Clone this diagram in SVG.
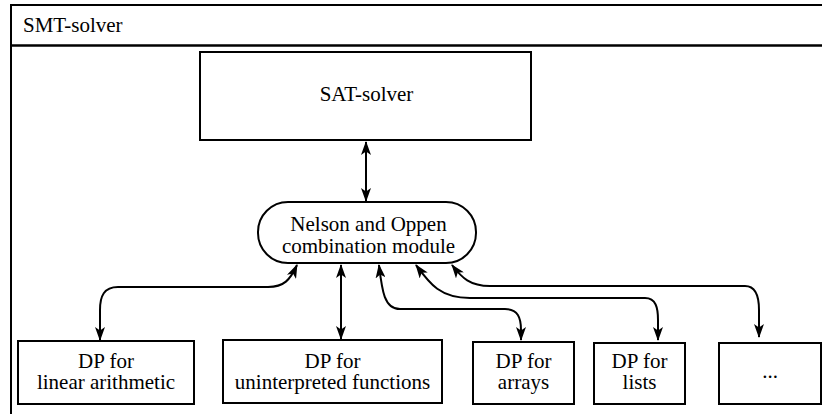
<svg xmlns="http://www.w3.org/2000/svg" width="822" height="414" viewBox="0 0 822 414" font-family="'Liberation Serif', 'Times New Roman', serif" font-size="21">
<style>
text{font-family:"Liberation Serif","Times New Roman",serif;font-size:21px;fill:#000}
.box{fill:#fff;stroke:#000;stroke-width:2}
.conn{fill:none;stroke:#000;stroke-width:2;marker-start:url(#ah);marker-end:url(#ah)}
</style>
<defs>
<marker id="ah" viewBox="0 0 14 10" refX="13" refY="5" markerWidth="14" markerHeight="10" markerUnits="userSpaceOnUse" orient="auto-start-reverse">
<path d="M0,0 L14,5 L0,10 L3.5,5 z" fill="#000"/>
</marker>
</defs>
<g id="frame">
<rect x="11" y="5" width="830" height="430" fill="#fff" stroke="#000" stroke-width="2"/>
<line x1="11" y1="45.5" x2="822" y2="45.5" stroke="#000" stroke-width="2.5"/>
<text x="23" y="32">SMT-solver</text>
</g>
<g id="connectors">
<path class="conn" d="M366,142 L366,201"/>
<path class="conn" d="M297,265 C290,280 284,287 268,287 L118,287 C104,287 100,296 100,310 L100,340"/>
<path class="conn" d="M341,265 L341,339"/>
<path class="conn" d="M379,265 C382,290 384,309 400,309 L505,309 C518,309 521,318 521,330 L521,340"/>
<path class="conn" d="M416,265 C430,284 440,298 470,298 L645,298 C656,298 658,308 658,320 L658,340"/>
<path class="conn" d="M452,265 C462,278 470,286 490,286 L745,286 C756,286 759,296 759,310 L759,337"/>
</g>
<g id="sat" text-anchor="middle">
<rect class="box" x="200" y="52" width="331" height="88"/>
<text x="366.5" y="101">SAT-solver</text>
</g>
<g id="nelson-oppen" text-anchor="middle">
<rect class="box" x="258" y="202" width="218" height="61" rx="30" ry="30"/>
<text x="368.5" y="231">Nelson and Oppen</text>
<text x="368.5" y="253">combination module</text>
</g>
<g id="dp-linear" text-anchor="middle">
<rect class="box" x="18" y="341" width="176" height="63"/>
<text x="106" y="368">DP for</text>
<text x="106" y="389">linear arithmetic</text>
</g>
<g id="dp-uf" text-anchor="middle">
<rect class="box" x="223" y="340" width="219" height="63"/>
<text x="332.5" y="368">DP for</text>
<text x="332.5" y="389">uninterpreted functions</text>
</g>
<g id="dp-arrays" text-anchor="middle">
<rect class="box" x="473" y="342" width="101" height="62"/>
<text x="523.5" y="368">DP for</text>
<text x="523.5" y="389">arrays</text>
</g>
<g id="dp-lists" text-anchor="middle">
<rect class="box" x="594" y="343" width="91" height="61"/>
<text x="639.5" y="368">DP for</text>
<text x="639.5" y="389">lists</text>
</g>
<g id="dp-more" text-anchor="middle">
<rect class="box" x="719" y="343" width="102" height="61"/>
<text x="770" y="378">...</text>
</g>
</svg>
